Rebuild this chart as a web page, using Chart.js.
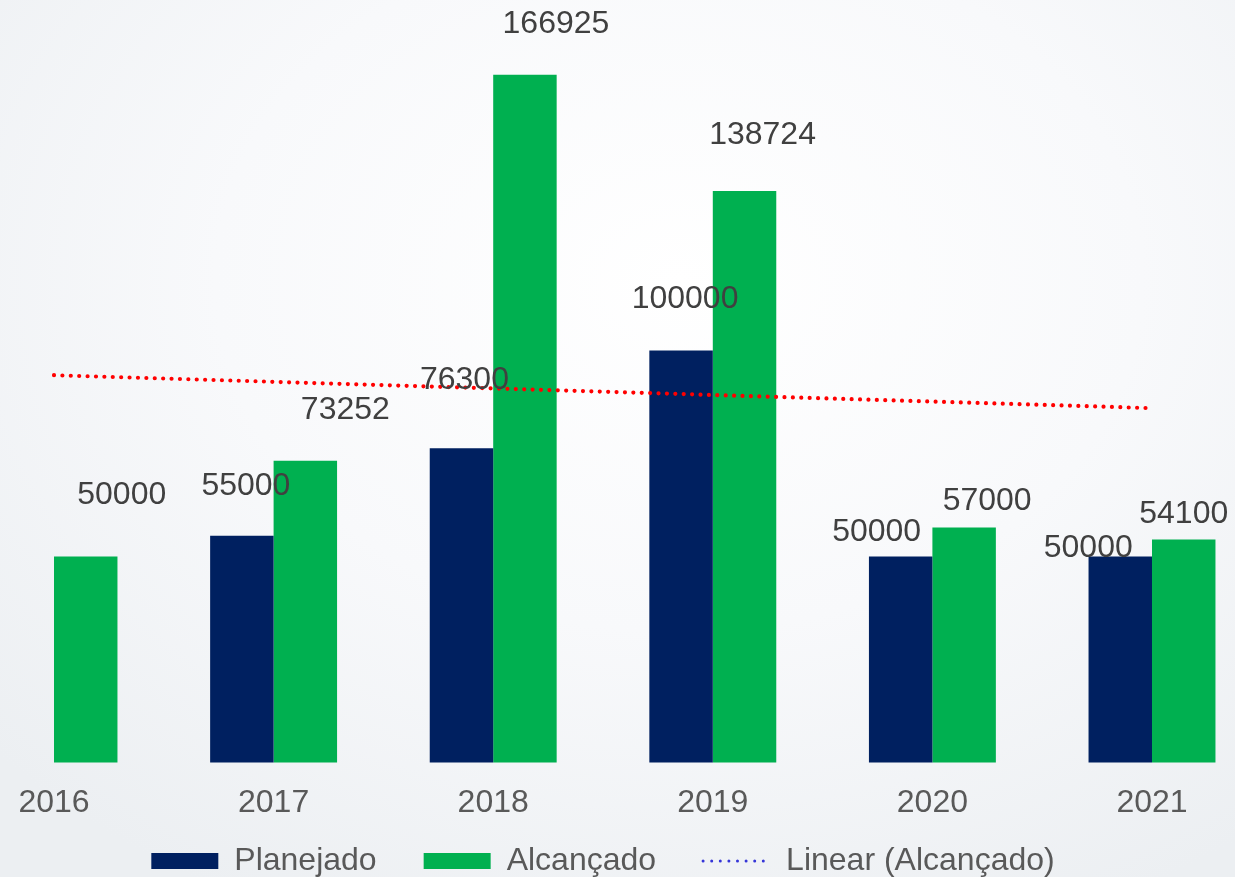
<!DOCTYPE html>
<html>
<head>
<meta charset="utf-8">
<script src="https://cdn.jsdelivr.net/npm/chart.js@4.4.0/dist/chart.umd.min.js"></script>
<style>
  html, body {
    margin: 0;
    padding: 0;
  }
  body {
    width: 1235px;
    height: 877px;
    overflow: hidden;
    background: radial-gradient(ellipse 75% 80% at 55% 32%, #ffffff 0%, #f8f9fb 50%, #eceff2 100%);
  }
  #wrap {
    position: relative;
    width: 1235px;
    height: 877px;
  }
</style>
</head>
<body>
<div id="wrap"><canvas id="chart"></canvas></div>
<script>
'use strict';

// chart data
var years = ['2016', '2017', '2018', '2019', '2020', '2021'];
var planejado = [null, 55000, 76300, 100000, 50000, 50000];
var alcancado = [50000, 73252, 166925, 138724, 57000, 54100];
// linear trend of Alcançado at its two ends
var trendAlcancado = [94000, null, null, null, null, 86000];

// label nudges (px) relative to the top centre of each bar, as placed in the original
var planLabelDx = [0, 4, 3, 4, -24, -32];
var planLabelDy = [0, -52, -70, -54, -26, -10];
var alcLabelDx = [36, 40, 31, 18, 23, 0];
var alcLabelDy = [-63, -53, -53, -58, -29, -28];

var navy = '#002060';
var green = '#00B050';
var fontFamily = '"Liberation Sans", Arial, sans-serif';

// draws the value labels above the bars
var barValueLabels = {
  id: 'barValueLabels',
  afterDatasetsDraw: function (chart) {
    var ctx = chart.ctx;
    var sets = [
      { index: 0, values: planejado, dx: planLabelDx, dy: planLabelDy },
      { index: 1, values: alcancado, dx: alcLabelDx, dy: alcLabelDy }
    ];
    ctx.save();
    ctx.font = '32px ' + fontFamily;
    ctx.fillStyle = '#404040';
    ctx.textAlign = 'center';
    ctx.textBaseline = 'alphabetic';
    sets.forEach(function (set) {
      var meta = chart.getDatasetMeta(set.index);
      meta.data.forEach(function (bar, i) {
        var v = set.values[i];
        if (v === null || v === undefined) return;
        var x = bar.x + set.dx[i];
        var y = bar.y + set.dy[i] + 11;
        ctx.fillText(String(v), x, y);
      });
    });
    ctx.restore();
  }
};

var ctx = document.getElementById('chart').getContext('2d');

var chart = new Chart(ctx, {
  type: 'bar',
  data: {
    labels: years,
    datasets: [{
      label: 'Planejado',
      data: planejado,
      backgroundColor: navy,
      categoryPercentage: 0.578,
      barPercentage: 1,
      clip: false,
      order: 2
    }, {
      label: 'Alcançado',
      data: alcancado,
      backgroundColor: green,
      categoryPercentage: 0.578,
      barPercentage: 1,
      clip: false,
      order: 2
    }, {
      type: 'line',
      label: 'Linear (Alcançado)',
      data: trendAlcancado,
      borderColor: '#FF0000',
      borderWidth: 4.2,
      borderDash: [0, 8.4],
      borderCapStyle: 'round',
      pointRadius: 0,
      spanGaps: true,
      fill: false,
      clip: false,
      order: 1
    }]
  },
  options: {
    responsive: true,
    maintainAspectRatio: false,
    animation: false,
    layout: {
      padding: { top: 21, left: 54, right: 83, bottom: -10 }
    },
    scales: {
      x: {
        offset: false,
        grid: { display: false },
        border: { display: false },
        ticks: {
          color: '#595959',
          padding: 14,
          font: { family: fontFamily, size: 32 }
        },
        afterFit: function (scale) {
          // short axis box so the legend keeps its wide spacing; labels may spill below it
          scale.height = 35.6;
          scale._computeLabelArea = function () { return undefined; };
        }
      },
      y: {
        display: false,
        min: 0,
        max: 180000
      }
    },
    plugins: {
      tooltip: { enabled: false },
      legend: {
        position: 'bottom',
        labels: {
          usePointStyle: true,
          pointStyleWidth: 67,
          boxHeight: 16,
          padding: 47,
          color: '#595959',
          font: { family: fontFamily, size: 32 },
          generateLabels: function () {
            return [{
              text: 'Planejado', datasetIndex: 0, pointStyle: 'rect',
              fillStyle: navy, strokeStyle: navy, lineWidth: 0, fontColor: '#595959'
            }, {
              text: 'Alcançado', datasetIndex: 1, pointStyle: 'rect',
              fillStyle: green, strokeStyle: green, lineWidth: 0, fontColor: '#595959'
            }, {
              text: 'Linear (Alcançado)', datasetIndex: 2, pointStyle: 'line',
              fillStyle: 'rgba(0,0,0,0)', strokeStyle: '#3535D8', lineWidth: 3,
              lineDash: [0, 8.6], lineCap: 'round', fontColor: '#595959'
            }];
          }
        }
      }
    }
  },
  plugins: [barValueLabels]
});
</script>
</body>
</html>
